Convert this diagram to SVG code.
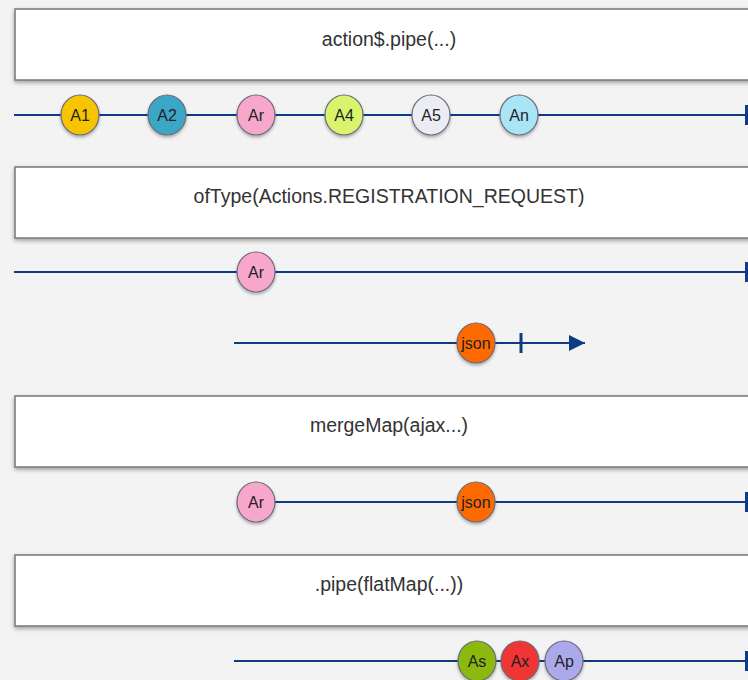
<svg xmlns="http://www.w3.org/2000/svg" width="748" height="680" viewBox="0 0 748 680">
<defs>
<filter id="sh" x="-5%" y="-20%" width="110%" height="150%">
<feDropShadow dx="0" dy="2" stdDeviation="2" flood-color="#000" flood-opacity="0.35"/>
</filter>
<filter id="csh" x="-30%" y="-30%" width="160%" height="170%">
<feDropShadow dx="0" dy="2" stdDeviation="1.5" flood-color="#000" flood-opacity="0.3"/>
</filter>
<marker id="arr" markerWidth="16" markerHeight="16" refX="16" refY="8" orient="auto" markerUnits="userSpaceOnUse">
<path d="M0,0 L16,8 L0,16 Z" fill="#0f3a85"/>
</marker>
</defs>
<style>
.box{fill:#fff;stroke:#777;stroke-width:1.5;filter:url(#sh)}
.bt{font-family:"Liberation Sans",Arial,sans-serif;font-size:19.5px;fill:#333;text-anchor:middle}
.ln{stroke:#0f3a85;stroke-width:2;fill:none}
.tk{stroke:#0f3a85;stroke-width:3}
.c{stroke:#6a6a7a;stroke-width:1.2;filter:url(#csh)}
.ct{font-family:"Liberation Sans",Arial,sans-serif;font-size:16px;fill:#222;text-anchor:middle}
</style>
<rect width="748" height="680" fill="#f3f3f3"/>

<g id="box1"><rect class="box" x="15" y="9" width="740" height="71"/><text class="bt" x="389" y="46">action$.pipe(...)</text></g>
<g id="box2"><rect class="box" x="15" y="167" width="740" height="71"/><text class="bt" x="389" y="203">ofType(Actions.REGISTRATION_REQUEST)</text></g>
<g id="box3"><rect class="box" x="15" y="396" width="740" height="71"/><text class="bt" x="389" y="432">mergeMap(ajax...)</text></g>
<g id="box4"><rect class="box" x="15" y="555" width="740" height="71"/><text class="bt" x="389" y="591">.pipe(flatMap(...))</text></g>

<g id="connectors">
<line class="ln" x1="14" y1="115" x2="748" y2="115"/>
<line class="tk" x1="746.5" y1="105" x2="746.5" y2="125"/>
<line class="ln" x1="14" y1="272" x2="748" y2="272"/>
<line class="tk" x1="746.5" y1="262" x2="746.5" y2="282"/>
<line class="ln" x1="234" y1="343" x2="585" y2="343" marker-end="url(#arr)"/>
<line class="tk" x1="521" y1="333" x2="521" y2="353"/>
<line class="ln" x1="256" y1="502" x2="748" y2="502"/>
<line class="tk" x1="746.5" y1="492" x2="746.5" y2="512"/>
<line class="ln" x1="234" y1="661" x2="748" y2="661"/>
<line class="tk" x1="746.5" y1="651" x2="746.5" y2="671"/>
</g>

<g id="A1"><ellipse class="c" cx="80" cy="115" rx="19" ry="20" fill="#f7c400"/><text class="ct" x="80" y="121">A1</text></g>
<g id="A2"><ellipse class="c" cx="167" cy="115" rx="19" ry="20" fill="#3ba6c6"/><text class="ct" x="167" y="121">A2</text></g>
<g id="Ar1"><ellipse class="c" cx="256" cy="115" rx="19" ry="20" fill="#f7a6cc"/><text class="ct" x="256" y="121">Ar</text></g>
<g id="A4"><ellipse class="c" cx="344" cy="115" rx="19" ry="20" fill="#d9f46c"/><text class="ct" x="344" y="121">A4</text></g>
<g id="A5"><ellipse class="c" cx="431" cy="115" rx="19" ry="20" fill="#ececf3"/><text class="ct" x="431" y="121">A5</text></g>
<g id="An"><ellipse class="c" cx="519" cy="115" rx="19" ry="20" fill="#a9e4f7"/><text class="ct" x="519" y="121">An</text></g>

<g id="Ar2"><ellipse class="c" cx="256" cy="272" rx="19" ry="20" fill="#f7a6cc"/><text class="ct" x="256" y="278">Ar</text></g>
<g id="json1"><ellipse class="c" cx="476" cy="343" rx="19" ry="20" fill="#ff6a00"/><text class="ct" x="476" y="349">json</text></g>

<g id="Ar3"><ellipse class="c" cx="256" cy="502" rx="19" ry="20" fill="#f7a6cc"/><text class="ct" x="256" y="508">Ar</text></g>
<g id="json2"><ellipse class="c" cx="476" cy="502" rx="19" ry="20" fill="#ff6a00"/><text class="ct" x="476" y="508">json</text></g>

<g id="As"><ellipse class="c" cx="477" cy="661" rx="19" ry="20" fill="#8cb90a"/><text class="ct" x="477" y="667">As</text></g>
<g id="Ax"><ellipse class="c" cx="520" cy="661" rx="19" ry="20" fill="#f03535"/><text class="ct" x="520" y="667">Ax</text></g>
<g id="Ap"><ellipse class="c" cx="564" cy="661" rx="19" ry="20" fill="#aaaaea"/><text class="ct" x="564" y="667">Ap</text></g>
</svg>
